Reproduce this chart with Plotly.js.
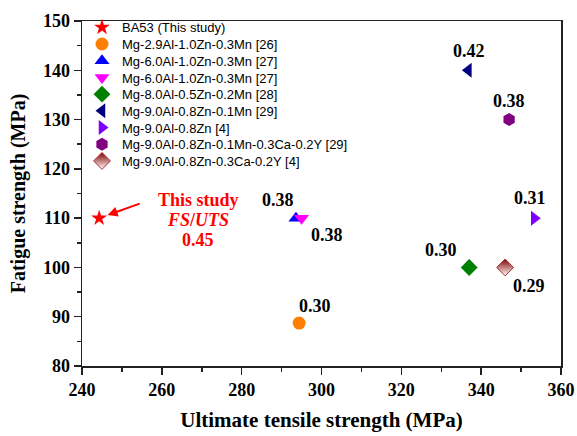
<!DOCTYPE html>
<html>
<head>
<meta charset="utf-8">
<script src="https://cdn.plot.ly/plotly-3.0.1.min.js"></script>
<style>html,body{margin:0;padding:0;background:#fff;}#chart{width:577px;height:436px;}</style>
</head>
<body>
<div id="chart"></div>
<script>
// Data
const seriesNames = [
  "BA53 (This study)",
  "Mg-2.9Al-1.0Zn-0.3Mn [26]",
  "Mg-6.0Al-1.0Zn-0.3Mn [27]",
  "Mg-6.0Al-1.0Zn-0.3Mn [27]",
  "Mg-8.0Al-0.5Zn-0.2Mn [28]",
  "Mg-9.0Al-0.8Zn-0.1Mn [29]",
  "Mg-9.0Al-0.8Zn [4]",
  "Mg-9.0Al-0.8Zn-0.1Mn-0.3Ca-0.2Y [29]",
  "Mg-9.0Al-0.8Zn-0.3Ca-0.2Y [4]"
];
const utsValues = [244.3, 294.4, 293.6, 295.0, 337.0, 336.8, 353.3, 347.0, 346.0];
const fsValues  = [110, 88.7, 110, 110, 100, 140, 110, 130, 100];
const ratioLabels = ["0.45", "0.30", "0.38", "0.38", "0.30", "0.42", "0.31", "0.38", "0.29"];
const calloutLines = ["This study", "<i>FS</i>/<i>UTS</i>"];
const xTickVals = [240, 260, 280, 300, 320, 340, 360];
const yTickVals = [80, 90, 100, 110, 120, 130, 140, 150];

// Styles
const symbols = ["star", "circle", "triangle-up", "triangle-down", "diamond", "triangle-left", "triangle-right", "hexagon", "diamond"];
const colors  = ["#ff0000", "#ff8000", "#0000ff", "#ff00ff", "#008000", "#000080", "#8000ff", "#800080", "#800000"];
const sizes   = [12, 13, 13, 13, 13, 13, 13, 13, 13];
// label pixel offsets [xshift, yshift] (index 0 handled by the red callout)
const labelShift = [null, [16, 17], [-18, 18], [25, -17], [-28, 17], [1, 19], [-4, 20], [0, 19], [24, -19]];
const legendRowStep = 16.7;

const traces = seriesNames.map((name, i) => {
  const m = {symbol: symbols[i], color: colors[i], size: sizes[i], line: {width: 0}};
  if (i === 8) {
    m.line = {width: 1, color: "#b03030"};
    m.gradient = {type: "vertical", color: "#ffffff"};
  }
  return {
    type: "scatter", mode: "markers", name: name,
    x: [utsValues[i]], y: [fsValues[i]],
    marker: m
  };
});

const serif = "Liberation Serif, Times New Roman, serif";
const annotations = [];
for (let i = 1; i < seriesNames.length; i++) {
  annotations.push({
    x: utsValues[i], y: fsValues[i], xref: "x", yref: "y",
    text: "<b>" + ratioLabels[i] + "</b>", showarrow: false,
    xshift: labelShift[i][0], yshift: labelShift[i][1],
    font: {family: serif, size: 18, color: "#000"}
  });
}
// red callout text, one annotation per line
const calloutTexts = calloutLines.concat([ratioLabels[0]]);
calloutTexts.forEach((t, k) => {
  annotations.push({
    x: utsValues[0], y: fsValues[0], xref: "x", yref: "y",
    text: "<b>" + t + "</b>", showarrow: false,
    xshift: 99, yshift: 18 - 20 * k,
    font: {family: serif, size: 18, color: "#ff0000"}
  });
});
// red arrow
annotations.push({
  x: utsValues[0], y: fsValues[0], xref: "x", yref: "y",
  text: "", showarrow: true, arrowhead: 2, arrowsize: 1, arrowwidth: 2, arrowcolor: "#ff0000",
  ax: 42, ay: -15, standoff: 9
});

const axisCommon = {
  ticks: "outside", ticklen: 7, tickwidth: 1.5, tickcolor: "#222",
  showline: true, linecolor: "#222", linewidth: 1.5, mirror: true,
  showgrid: false, zeroline: false, tickmode: "array",
  tickfont: {family: serif, size: 18, color: "#000"},
  automargin: false
};

const layout = {
  width: 577, height: 436,
  margin: {l: 82, r: 16, t: 13, b: 70},
  paper_bgcolor: "#ffffff", plot_bgcolor: "#ffffff",
  showlegend: true,
  legend: {
    x: 0.0, y: 1.025, xanchor: "left", yanchor: "top",
    bgcolor: "rgba(0,0,0,0)", borderwidth: 0,
    font: {family: "Liberation Sans, Arial, sans-serif", size: 13, color: "#000"},
    tracegroupgap: 0
  },
  xaxis: Object.assign({}, axisCommon, {
    range: [240, 360],
    tickvals: xTickVals, ticktext: xTickVals.map(v => "<b>" + v + "</b>"),
    minor: {tickvals: [250, 270, 290, 310, 330, 350], ticks: "outside", ticklen: 4, tickwidth: 1.5, tickcolor: "#222", showgrid: false},
    title: {text: "<b>Ultimate tensile strength (MPa)</b>", standoff: 13,
            font: {family: serif, size: 21, color: "#000"}}
  }),
  yaxis: Object.assign({}, axisCommon, {
    range: [80, 150],
    tickvals: yTickVals, ticktext: yTickVals.map(v => "<b>" + v + "</b>"),
    minor: {tickvals: [85, 95, 105, 115, 125, 135, 145], ticks: "outside", ticklen: 4, tickwidth: 1.5, tickcolor: "#222", showgrid: false},
    title: {text: "<b>Fatigue strength (MPa)</b>", standoff: 12,
            font: {family: serif, size: 20, color: "#000"}}
  }),
  annotations: annotations
};

const gd = document.getElementById("chart");
Plotly.newPlot(gd, traces, layout, {displayModeBar: false, staticPlot: true}).then(() => {
  // tighten legend row spacing to match the reference
  const items = gd.querySelectorAll(".legend .traces");
  if (!items.length) return;
  const parse = el => {
    const m = /translate\(\s*([-\d.e]+)[ ,]+([-\d.e]+)\s*\)/.exec(el.getAttribute("transform") || "");
    return m ? [parseFloat(m[1]), parseFloat(m[2])] : [0, 0];
  };
  const first = parse(items[0]);
  items.forEach((el, k) => {
    const p = parse(el);
    el.setAttribute("transform", "translate(" + p[0] + "," + (first[1] + k * legendRowStep) + ")");
  });
});
</script>
</body>
</html>
